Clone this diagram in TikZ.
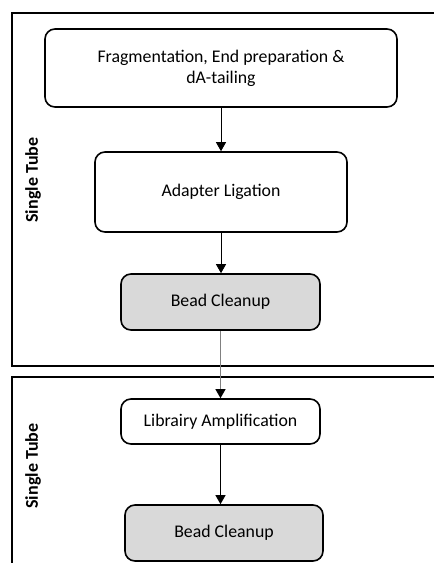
\documentclass[tikz,border=0pt]{standalone}
\usepackage{fontspec}
\setmainfont{Carlito}
\usetikzlibrary{arrows.meta}

\begin{document}
\begin{tikzpicture}[x=1pt, y=-1pt, font=\fontsize{17.8}{21}\selectfont]
\tikzstyle{tube}=[draw, line width=1.8pt]
\tikzstyle{step box}=[draw, line width=1.6pt, rounded corners=10pt, align=center, inner sep=0pt]
\tikzstyle{flow}=[-{Triangle[width=10pt, length=9pt]}, line width=0.9pt]
\useasboundingbox (0,0) rectangle (434,563);
\clip (0,0) rectangle (434,563);

% tubes
\draw[tube] (12,13) rectangle (450,366);
\draw[tube] (12,377) rectangle (450,580);
\node[rotate=90, font=\fontsize{18}{21}\selectfont\bfseries] (tubeA) at (33,180) {Single Tube};
\node[rotate=90, font=\fontsize{18}{21}\selectfont\bfseries] (tubeB) at (33,466) {Single Tube};

% steps
\node[step box, minimum width=352pt, minimum height=78pt] (frag) at (221,68) {Fragmentation, End preparation \&\\dA-tailing};
\node[step box, minimum width=252pt, minimum height=80pt] (ligate) at (221,192) {Adapter Ligation};
\node[step box, fill=black!15, minimum width=199pt, minimum height=56pt] (cleanA) at (220.5,302) {Bead Cleanup};
\node[step box, minimum width=199pt, minimum height=45pt] (amplify) at (220.5,421.5) {Librairy Amplification};
\node[step box, fill=black!15, minimum width=198pt, minimum height=56pt] (cleanB) at (224,533) {Bead Cleanup};

\draw[flow] (frag.south) -- (frag.south |- ligate.north);
\draw[flow] (ligate.south) -- (ligate.south |- cleanA.north);
\draw[flow, draw=black!50, -{Triangle[width=10pt, length=9pt, color=black]}] (cleanA.south) -- (amplify.north);
\draw[flow] (amplify.south) -- (amplify.south |- cleanB.north);
\end{tikzpicture}
\end{document}
